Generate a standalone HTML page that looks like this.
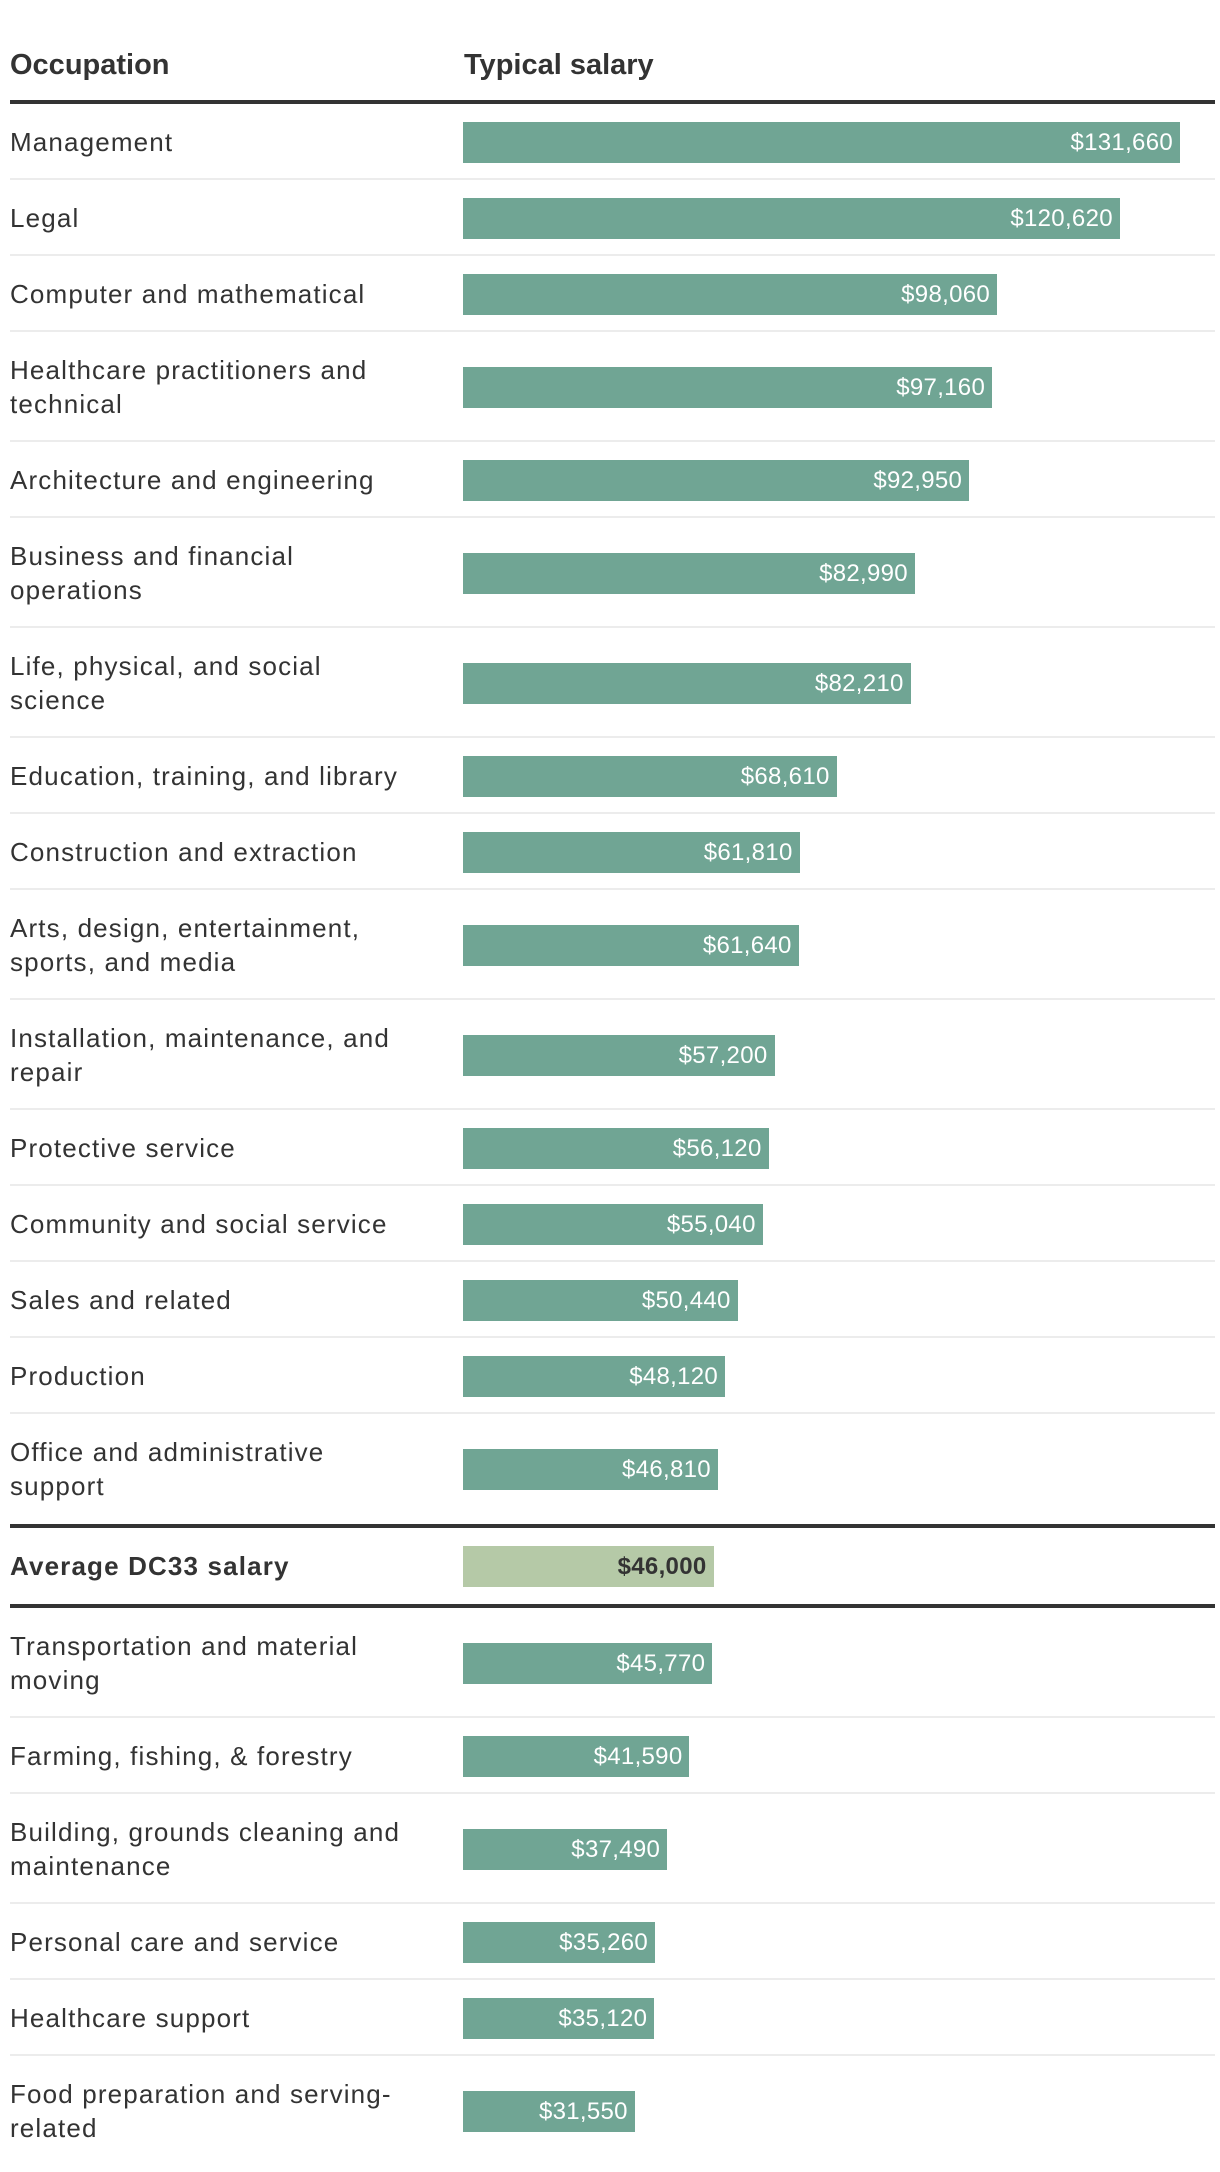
<!DOCTYPE html>
<html><head><meta charset="utf-8">
<style>
html,body{margin:0;padding:0;background:#fff;}
body{width:1220px;height:2172px;position:relative;font-family:"Liberation Sans",sans-serif;color:#333;overflow:hidden;}
.hdr{position:absolute;top:49px;font-size:29px;font-weight:bold;color:#333;}
.thick{position:absolute;left:10px;width:1205px;height:4px;background:#333;}
.row{position:absolute;left:10px;width:1205px;}
.sep{position:absolute;left:0;bottom:0;width:1205px;height:2px;background:#ececec;}
.lbl{position:absolute;left:0;top:50%;transform:translateY(-50%);font-size:26px;line-height:34px;letter-spacing:1.15px;white-space:pre-line;color:#333;}
.bar{position:absolute;left:453px;top:50%;height:41px;margin-top:-20px;background:#70a594;}
.val{position:absolute;right:7px;top:0;line-height:41px;font-size:24px;color:#fff;letter-spacing:0.3px;}
.avg .bar{background:#b5c9a7;}
.avg .val{color:#333;font-weight:bold;}
.avg .lbl{font-weight:bold;}
</style></head>
<body>
<div class="hdr" style="left:10px">Occupation</div>
<div class="hdr" style="left:464px">Typical salary</div>
<div class="thick" style="top:100px"></div>
<div id="chart"></div>
<script>
const categories=["Management","Legal","Computer and mathematical","Healthcare practitioners and\ntechnical","Architecture and engineering","Business and financial\noperations","Life, physical, and social\nscience","Education, training, and library","Construction and extraction","Arts, design, entertainment,\nsports, and media","Installation, maintenance, and\nrepair","Protective service","Community and social service","Sales and related","Production","Office and administrative\nsupport","Average DC33 salary","Transportation and material\nmoving","Farming, fishing, & forestry","Building, grounds cleaning and\nmaintenance","Personal care and service","Healthcare support","Food preparation and serving-\nrelated"];
const salaries=[131660,120620,98060,97160,92950,82990,82210,68610,61810,61640,57200,56120,55040,50440,48120,46810,46000,45770,41590,37490,35260,35120,31550];
const averageIndex=16;
const maxVal=131660, maxWidth=717;
function xScale(v){return v/maxVal*maxWidth;}
const chart=document.getElementById('chart');
let y=104;
categories.forEach((c,i)=>{
  const lines=c.split("\n").length;
  const h=lines>1?110:76;
  const isAvg=i===averageIndex;
  const row=document.createElement('div');
  
  
  row.className='row'+(isAvg?' avg':'');
  row.style.top=y+'px';row.style.height=h+'px';
  const lbl=document.createElement('div');
  
  
  lbl.className='lbl';lbl.textContent=c;
  const bar=document.createElement('div');
  
  
  bar.className='bar';bar.style.width=xScale(salaries[i])+'px';
  const val=document.createElement('div');
  
  
  val.className='val';val.textContent='$'+salaries[i].toLocaleString('en-US');
  bar.appendChild(val);
  row.appendChild(lbl);row.appendChild(bar);
  const next=i+1;
  if(!isAvg && next!==averageIndex && next<categories.length){
    const s=document.createElement('div');
    
    
    s.className='sep';row.appendChild(s);
  }
  chart.appendChild(row);
  y+=h;
  if(next===averageIndex||isAvg){
    const t=document.createElement('div');
    
    
    t.className='thick';t.style.top=y+'px';
    chart.appendChild(t);
    y+=4;
  }
});
</script>
</body></html>
